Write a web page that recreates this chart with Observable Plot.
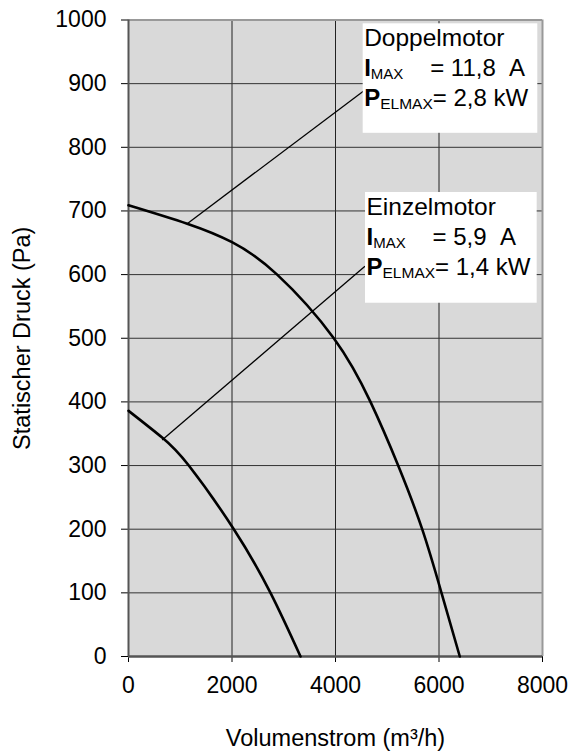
<!DOCTYPE html>
<html>
<head>
<meta charset="utf-8">
<script src="https://cdn.jsdelivr.net/npm/d3@7"></script>
<script src="https://cdn.jsdelivr.net/npm/@observablehq/plot@0.6"></script>
<style>
  html, body { margin: 0; padding: 0; background: #fff; }
  #chart svg { display: block; }
</style>
</head>
<body>
<div id="chart"></div>
<script>
// ---- data ----
const xTicks = [0, 2000, 4000, 6000, 8000];
const yTicks = [0, 100, 200, 300, 400, 500, 600, 700, 800, 900, 1000];

const doppelQ = [0, 1134, 2000, 2873, 3967, 4676, 5211, 5675, 6048, 6402];
const doppelP = [709, 680, 651, 600, 500, 400, 300, 200, 100, 0];

const einzelQ = [0, 650, 1165, 2035, 2744, 3324];
const einzelP = [386, 344, 300, 200, 100, 0];

const motors = ["Doppelmotor", "Einzelmotor"];
const iMax = ["11,8", "5,9"];
const pElMax = ["2,8", "1,4"];

const xLabel = "Volumenstrom (m³/h)";
const yLabel = "Statischer Druck (Pa)";

// ---- tables built from the arrays ----
const doppel = doppelQ.map((q, i) => ({q, p: doppelP[i]}));
const einzel = einzelQ.map((q, i) => ({q, p: einzelP[i]}));

// annotation placement (data coordinates)
const boxes = [
  {x1: 4535, x2: 7909, y1: 994, y2: 822},
  {x1: 4580, x2: 7897, y1: 729, y2: 555}
];
const leaders = [
  {x1: 1134, y1: 680, x2: 4569, y2: 890},
  {x1: 650, y1: 340, x2: 4569, y2: 613}
];

const FONT = "'Liberation Sans', Arial, Helvetica, sans-serif";

const annotationMark = (index, scales) => {
  const g = d3.create("svg:g")
    .attr("font-family", FONT)
    .attr("fill", "#000")
    .attr("text-anchor", "start");
  boxes.forEach((b, k) => {
    const x0 = scales.x(b.x1) + 1.5;
    const top = scales.y(b.y1);
    g.append("text").attr("x", x0).attr("y", top + 23)
      .attr("font-size", 24.5).text(motors[k]);
    const t2 = g.append("text").attr("x", x0).attr("y", top + 53).attr("font-size", 24)
      .style("white-space", "pre");
    t2.append("tspan").attr("font-weight", "bold").text("I");
    t2.append("tspan").attr("font-size", 15).attr("dy", 3).text("MAX");
    t2.append("tspan").attr("x", x0 + 66).attr("y", top + 53).text("= " + iMax[k] + "\u00a0\u00a0A");
    const t3 = g.append("text").attr("x", x0).attr("y", top + 83).attr("font-size", 24)
      .style("white-space", "pre");
    t3.append("tspan").attr("font-weight", "bold").text("P");
    t3.append("tspan").attr("font-size", 15.5).attr("dy", 3).text("ELMAX");
    t3.append("tspan").attr("dy", -3).text("= " + pElMax[k] + " kW");
  });
  return g.node();
};

const chart = Plot.plot({
  width: 572,
  height: 754,
  marginLeft: 128,
  marginRight: 30,
  marginTop: 19.5,
  marginBottom: 98,
  style: {
    fontFamily: FONT,
    fontSize: "23px",
    color: "#000",
    background: "#fff",
    overflow: "visible"
  },
  x: {
    domain: [0, 8000],
    ticks: xTicks,
    tickFormat: d => `${d}`,
    tickSize: 6,
    tickPadding: 14,
    label: null
  },
  y: {
    domain: [0, 1000],
    ticks: yTicks,
    tickFormat: d => `${d}`,
    tickSize: 7,
    tickPadding: 15,
    label: null
  },
  marks: [
    Plot.frame({fill: "#d9d9d9", stroke: null}),
    Plot.ruleX(xTicks.slice(1, -1), {stroke: "#222", strokeWidth: 1}),
    Plot.ruleY(yTicks.slice(1, -1), {stroke: "#333", strokeWidth: 1}),
    Plot.ruleY([1000], {stroke: "#999", strokeWidth: 2}),
    Plot.ruleX([8000], {stroke: "#999", strokeWidth: 2}),
    Plot.ruleX([0], {stroke: "#555", strokeWidth: 2}),
    Plot.ruleY([0], {stroke: "#555", strokeWidth: 2.5}),
    Plot.line(doppel, {x: "q", y: "p", stroke: "#000", strokeWidth: 2.6, curve: "natural"}),
    Plot.line(einzel, {x: "q", y: "p", stroke: "#000", strokeWidth: 2.6, curve: "natural"}),
    Plot.link(leaders, {x1: "x1", y1: "y1", x2: "x2", y2: "y2", stroke: "#000", strokeWidth: 1.3}),
    Plot.rect(boxes, {x1: "x1", x2: "x2", y1: "y1", y2: "y2", fill: "#fff", stroke: null}),
    annotationMark,
    Plot.text([xLabel], {frameAnchor: "bottom", lineAnchor: "middle", textAnchor: "middle", dy: 82, fontSize: 23.5, fill: "#000"}),
    Plot.text([yLabel], {frameAnchor: "left", lineAnchor: "middle", textAnchor: "middle", dx: -106, rotate: -90, fontSize: 23.5, fill: "#000"})
  ]
});

document.getElementById("chart").appendChild(chart);
</script>
</body>
</html>
